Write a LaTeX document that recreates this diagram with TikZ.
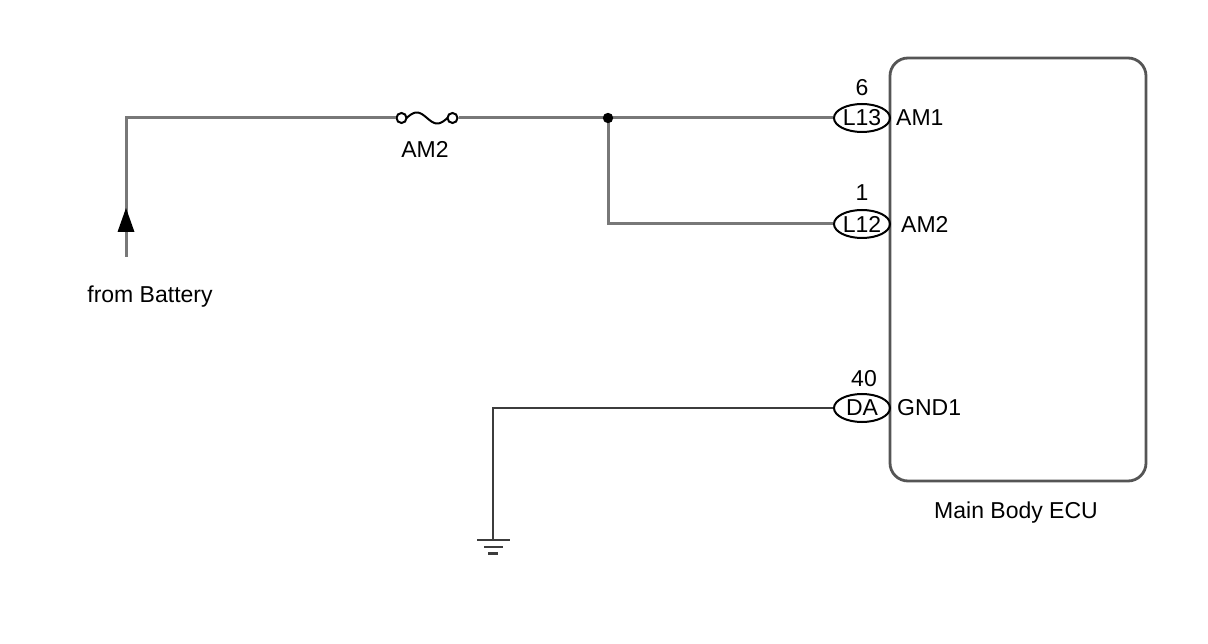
\documentclass[tikz,border=0pt]{standalone}
\usepackage{fontspec}
\setmainfont{Liberation Sans}
\usetikzlibrary{shapes.geometric}
\definecolor{wiregray}{RGB}{120,120,120}
\definecolor{gndgray}{RGB}{60,60,60}
\definecolor{boxgray}{RGB}{85,85,85}
\begin{document}
\begin{tikzpicture}[x=1pt,y=-1pt,
  wire/.style={line width=3pt,draw=wiregray},
  gwire/.style={line width=2.8pt,draw=gndgray},
  conn/.style={ellipse,draw=black,line width=2pt,minimum width=56pt,minimum height=28pt,inner sep=0pt,font=\fontsize{23}{25}\selectfont},
  lbl/.style={font=\fontsize{23}{25}\selectfont,inner sep=0pt}]
\useasboundingbox (0,0) rectangle (1208,644);
\fill[white] (0,0) rectangle (1208,644);
% ECU
\node[draw=boxgray,line width=2.8pt,rounded corners=18pt,minimum width=256pt,minimum height=423pt,inner sep=0pt] (ecu) at (1018,269.5) {};
\node[lbl] (ecul) at (1016,513) {Main Body ECU};
% connectors
\node[conn] (c13) at (862,118) {L13};
\node[conn] (c12) at (862,224) {L12};
\node[conn] (cda) at (862,408) {DA};
\node[lbl] (p6) at (862,88) {6};
\node[lbl] (p1) at (862,193) {1};
\node[lbl] (p40) at (864,379) {40};
\node[lbl,anchor=west] (n1) at (896,118) {AM1};
\node[lbl,anchor=west] (n2) at (901,224) {AM2};
\node[lbl,anchor=west] (n3) at (897,408) {GND1};
% coordinates
\coordinate (bat) at (126,257);
\coordinate (tip) at (126,208);
\coordinate (corner) at (126,118);
\coordinate (j) at (608,118);
\coordinate (j2) at (608,224);
\coordinate (gc) at (493,408);
\coordinate (gnd) at (493,540);
% fuse
\node[circle,draw=black,line width=2pt,minimum size=10pt,inner sep=0pt] (f1) at (401.5,118) {};
\node[circle,draw=black,line width=2pt,minimum size=10pt,inner sep=0pt] (f2) at (452.5,118) {};
\draw[black,line width=2pt] plot[domain=0:1,samples=40] ({406.5+41*\x},{118-5.5*sin(360*\x)});
\node[lbl] (fl) at (425,149) {AM2};
\node[lbl] (bl) at (150,297) {from Battery};
% wires
\draw[wire] (bat) -- (corner) -- (f1.west);
\draw[wire] (f2.east) -- (j) -- (c13.west);
\draw[wire] (j) -- (j2) -- (c12.west);
\fill[black] (j) circle (5.2pt);
\fill[black] (tip) -- ++(8.5,24) -- ++(-17,0) -- cycle;
\draw[gwire] (cda.west) -- (gc) -- (gnd);
\draw[gndgray,line width=2.4pt] (477,540) -- (510,540) (484,547) -- (503,547) (488,553.5) -- (498,553.5);
\end{tikzpicture}
\end{document}
